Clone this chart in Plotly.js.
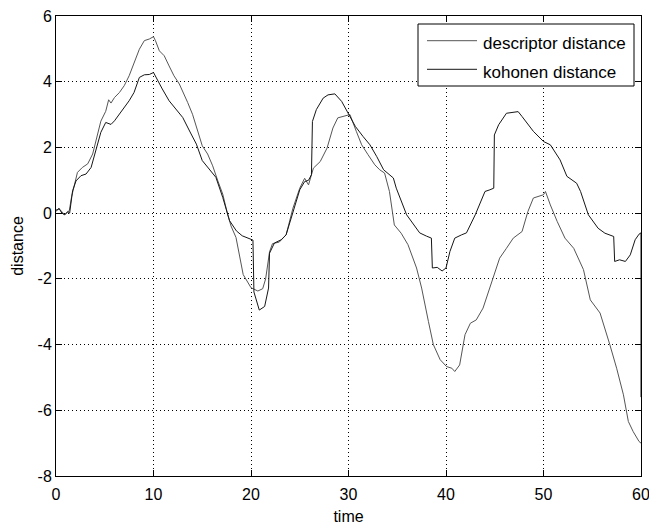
<!DOCTYPE html>
<html>
<head>
<meta charset="utf-8">
<script src="https://cdn.plot.ly/plotly-3.0.1.min.js"></script>
<style>html,body{margin:0;padding:0;background:#fff;}#chart{width:649px;height:525px;}</style>
</head>
<body>
<div id="chart"></div>
<script>
const descTime = [0,0.34,0.6,0.85,1.1,1.37,1.6,1.9,2.2,2.7,3.25,3.76,4.27,4.6,5.1,5.4,5.64,6.0,6.5,7.0,7.5,8.0,8.55,9.06,9.57,10.0,10.2,10.6,11.1,11.6,12.1,12.65,13.0,13.5,14.0,14.5,15.0,15.55,16.07,16.6,17.1,17.6,17.95,18.46,19.2,20.0,20.7,21.2,21.5,21.9,22.2,22.9,23.6,24.3,25.0,25.5,25.9,26.4,27.1,27.8,28.4,28.9,29.6,30.15,30.8,31.35,32.0,32.7,33.2,33.7,34.2,34.7,35.4,36.1,36.98,37.5,38.2,38.7,39.4,40.06,40.6,40.9,41.4,41.95,42.5,43.1,43.8,44.8,45.5,46.2,46.9,47.8,48.4,48.96,50.0,50.2,50.7,51.4,52.2,53.1,54.1,54.8,55.8,56.8,57.5,58.2,58.7,59.2,59.8,60];
const descDist = [0.1,0.12,0.05,-0.05,0.0,0.09,0.5,0.88,1.24,1.39,1.5,1.8,2.4,2.8,3.1,3.45,3.35,3.52,3.67,3.88,4.18,4.58,4.99,5.25,5.3,5.37,5.25,4.94,4.79,4.48,4.18,3.93,3.72,3.37,3.01,2.5,2.05,1.8,1.44,0.98,0.58,-0.03,-0.39,-0.74,-1.87,-2.27,-2.37,-2.3,-2.0,-1.18,-0.93,-0.88,-0.66,0.15,0.76,1.06,0.86,1.37,1.57,1.98,2.59,2.9,2.95,3.0,2.49,2.08,1.78,1.47,1.32,1.22,0.66,-0.36,-0.61,-0.96,-1.67,-2.28,-3.3,-4.0,-4.46,-4.67,-4.72,-4.82,-4.62,-3.7,-3.35,-3.25,-2.89,-1.98,-1.37,-1.07,-0.76,-0.56,0.05,0.46,0.56,0.66,0.25,-0.25,-0.76,-1.07,-1.72,-2.64,-3.04,-4.0,-4.72,-5.53,-6.34,-6.65,-6.95,-7.0];

const kohTime = [0,0.3,0.6,0.9,1.2,1.4,1.7,2.05,2.56,3.08,3.6,4.1,4.6,5.1,5.64,6.0,6.5,7.0,7.5,8.0,8.55,9.06,9.57,10.0,10.25,10.9,11.6,12.3,13.0,13.7,14.4,15.0,15.7,16.4,17.1,17.8,18.5,19.1,20.2,20.3,20.85,21.4,21.8,21.9,22.4,23.1,23.6,24.3,25.0,25.5,25.9,26.2,26.3,26.7,27.4,27.9,28.6,29.3,30.0,30.7,31.5,32.2,32.9,33.6,34.6,34.9,35.96,36.8,37.3,38.0,38.5,38.6,39.1,39.6,40.0,40.4,40.9,41.6,42.1,43.0,43.5,44.0,44.5,44.9,44.96,45.4,46.2,47.4,47.8,48.96,50.0,50.7,51.7,52.4,53.4,53.8,54.6,55.6,56.3,57.2,57.3,57.8,58.4,58.9,59.4,59.8,60,60];
const kohDist = [0.05,0.15,0.0,-0.05,0.05,0.0,0.68,0.98,1.14,1.19,1.39,1.9,2.46,2.76,2.7,2.81,3.01,3.22,3.42,3.67,4.13,4.21,4.22,4.28,4.13,3.78,3.42,3.17,2.91,2.5,2.1,1.6,1.34,1.09,0.48,-0.23,-0.54,-0.69,-0.82,-2.4,-2.95,-2.84,-2.28,-1.22,-0.91,-0.81,-0.66,0.05,0.71,0.96,1.0,1.17,2.79,3.15,3.5,3.6,3.63,3.4,3.0,2.64,2.33,2.08,1.72,1.32,1.07,0.76,-0.05,-0.4,-0.6,-0.7,-0.76,-1.67,-1.65,-1.76,-1.67,-1.17,-0.76,-0.66,-0.6,-0.05,0.3,0.66,0.71,0.76,2.38,2.69,3.04,3.09,2.94,2.49,2.18,2.08,1.62,1.12,0.91,0.66,-0.05,-0.46,-0.61,-0.71,-1.47,-1.42,-1.47,-1.27,-0.81,-0.64,-0.6,-5.6];

const xTicks = [0,10,20,30,40,50,60];
const yTicks = [-8,-6,-4,-2,0,2,4,6];
const seriesNames = ['descriptor distance', 'kohonen distance'];
const seriesColors = ['#555555', '#161616'];

const FONT = 'Liberation Sans, Arial, Helvetica, sans-serif';

const traces = [
  {x: descTime, y: descDist, type: 'scatter', mode: 'lines', name: seriesNames[0],
   line: {color: seriesColors[0], width: 1}},
  {x: kohTime, y: kohDist, type: 'scatter', mode: 'lines', name: seriesNames[1],
   line: {color: seriesColors[1], width: 1}}
];

const axisCommon = {
  showline: true, linecolor: '#000', linewidth: 1, mirror: 'ticks',
  ticks: 'inside', ticklen: 6, tickcolor: '#000', tickwidth: 1,
  showgrid: true, gridcolor: '#000', gridwidth: 1, griddash: '1px,3px',
  zeroline: false, ticklabeloverflow: 'allow',
  tickfont: {family: FONT, size: 16, color: '#000'}
};

// legend box drawn in paper coordinates (plot area: l=56, r=641, t=16, b=476)
const px2x = p => (p - 56) / 585;
const py2y = p => (476 - p) / 460;
const legRows = [40.7, 69.3];
const shapes = [
  {type: 'rect', xref: 'paper', yref: 'paper', layer: 'above',
   x0: px2x(418), x1: px2x(634), y0: py2y(86), y1: py2y(24),
   line: {color: '#000', width: 1}, fillcolor: '#fff'}
].concat(legRows.map((r, i) => ({
   type: 'line', xref: 'paper', yref: 'paper', layer: 'above',
   x0: px2x(427), x1: px2x(477), y0: py2y(r), y1: py2y(r),
   line: {color: seriesColors[i], width: 1}
})));
const annotations = seriesNames.map((n, i) => ({
  text: n, xref: 'paper', yref: 'paper', showarrow: false,
  x: px2x(481), y: py2y(legRows[i] + 3), xanchor: 'left', yanchor: 'middle',
  font: {family: FONT, size: 17, color: '#000'}
}));

const layout = {
  width: 649, height: 525,
  margin: {l: 56, r: 8, t: 16, b: 49},
  paper_bgcolor: '#fff', plot_bgcolor: '#fff',
  font: {family: FONT, size: 16, color: '#000'},
  showlegend: false,
  shapes: shapes,
  annotations: annotations,
  xaxis: Object.assign({}, axisCommon, {
    range: [0, 60], tickvals: xTicks, ticktext: xTicks.map(String),
    ticklabelstandoff: 4,
    title: {text: 'time', font: {family: FONT, size: 16}, standoff: 10}
  }),
  yaxis: Object.assign({}, axisCommon, {
    range: [-8, 6], tickvals: yTicks, ticktext: yTicks.map(String),
    ticklabelstandoff: 0,
    title: {text: 'distance', font: {family: FONT, size: 16}, standoff: 9}
  })
};

Plotly.newPlot('chart', traces, layout, {displayModeBar: false, staticPlot: true});
</script>
</body>
</html>
